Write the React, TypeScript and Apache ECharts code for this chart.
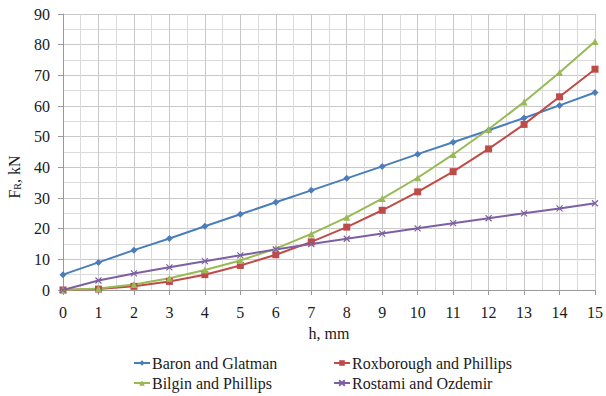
import React, { useEffect, useRef } from "react";
import * as echarts from "echarts";

const hValues = [0, 1, 2, 3, 4, 5, 6, 7, 8, 9, 10, 11, 12, 13, 14, 15];
const baron = [5, 9, 13, 16.8, 20.8, 24.7, 28.6, 32.5, 36.4, 40.3, 44.3, 48.2, 52.1, 56.1, 60.2, 64.4];
const roxborough = [0, 0.3, 1.2, 2.8, 5, 8, 11.5, 15.7, 20.5, 26, 32, 38.6, 46, 54, 63, 72];
const bilgin = [0, 0.5, 1.8, 3.8, 6.5, 9.6, 13.5, 18.3, 23.7, 29.8, 36.6, 44.2, 52.4, 61.3, 70.9, 81];
const rostami = [0, 3.1, 5.4, 7.4, 9.4, 11.3, 13.2, 15, 16.7, 18.4, 20.1, 21.8, 23.4, 25, 26.6, 28.3];

const names = ["Baron and Glatman", "Roxborough and Phillips", "Bilgin and Phillips", "Rostami and Ozdemir"];
const colors = ["#4A7EBB", "#BE4B48", "#98B954", "#7D60A0"];
const FONT = "'Liberation Serif', 'Times New Roman', serif";
const TXT = "#1a1a1a";

export default function App() {
  const ref = useRef<HTMLDivElement>(null);
  useEffect(() => {
    if (!ref.current) return;
    const chart = echarts.init(ref.current, null, { renderer: "svg" });
    const pair = (arr: number[]) => hValues.map((h, i) => [h, arr[i]]);
    const mk = (name: string, data: number[], color: string, symbol: string, size: number) => ({
      name,
      type: "line",
      data: pair(data),
      symbol,
      symbolSize: size,
      showSymbol: true,
      lineStyle: { color, width: 2 },
      itemStyle: { color, borderColor: color, borderWidth: 0 },
      z: 3,
    });
    const cross = "path://M0,0L10,10M10,0L0,10";
    const legendText = { fontFamily: FONT, fontSize: 16, color: TXT, padding: [0, 0, 0, -3] };
    const legendPos = [
      [128, 350],
      [328, 350],
      [128, 370],
      [328, 370],
    ];
    chart.setOption({
      animation: false,
      backgroundColor: "#ffffff",
      textStyle: { fontFamily: FONT },
      grid: { left: 63, right: 10, top: 14, bottom: 106, containLabel: false },
      xAxis: {
        type: "value",
        min: 0,
        max: 15,
        interval: 1,
        name: "h, mm",
        nameLocation: "middle",
        nameGap: 35,
        nameTextStyle: { fontFamily: FONT, fontSize: 16, color: TXT },
        axisLine: { show: true, lineStyle: { color: "#9a9a9a", width: 1 } },
        axisTick: { show: true, length: 5, lineStyle: { color: "#9a9a9a" } },
        axisLabel: { fontFamily: FONT, fontSize: 16, color: TXT, margin: 14 },
        splitLine: { show: true, lineStyle: { color: "#c8c8c8", width: 1 } },
        minorTick: { show: false, splitNumber: 2 },
        minorSplitLine: { show: true, lineStyle: { color: "#dadada", width: 1 } },
      },
      yAxis: {
        type: "value",
        min: 0,
        max: 90,
        interval: 10,
        axisLine: { show: true, lineStyle: { color: "#9a9a9a", width: 1 } },
        axisTick: { show: true, length: 5, lineStyle: { color: "#9a9a9a" } },
        axisLabel: { fontFamily: FONT, fontSize: 16, color: TXT, margin: 13 },
        splitLine: { show: true, lineStyle: { color: "#c8c8c8", width: 1 } },
        minorTick: { show: false, splitNumber: 2 },
        minorSplitLine: { show: true, lineStyle: { color: "#dadada", width: 1 } },
      },
      graphic: [
        {
          type: "text",
          x: 14,
          y: 177,
          rotation: Math.PI / 2,
          style: {
            text: "{a|F}{b|R}{a|, kN}",
            align: "center",
            verticalAlign: "middle",
            rich: {
              a: { fontFamily: FONT, fontSize: 16, fill: TXT },
              b: { fontFamily: FONT, fontSize: 10, fill: TXT, padding: [6, 0, 0, 0] },
            },
          },
        },
      ],
      legend: names.map((n, i) => ({
        orient: "horizontal",
        left: legendPos[i][0],
        top: legendPos[i][1],
        itemWidth: 16,
        itemHeight: 7,
        data: [n],
        textStyle: legendText,
      })),
      series: [
        mk(names[0], baron, colors[0], "diamond", 7),
        mk(names[1], roxborough, colors[1], "rect", 7),
        mk(names[2], bilgin, colors[2], "triangle", 7),
        {
          ...mk(names[3], rostami, colors[3], cross, 6),
          itemStyle: { color: "none", borderColor: colors[3], borderWidth: 1.2 },
        },
      ],
    });
    return () => chart.dispose();
  }, []);
  return (
    <div
      ref={ref}
      style={{ position: "fixed", left: 0, top: 0, width: 606, height: 396 }}
    />
  );
}
